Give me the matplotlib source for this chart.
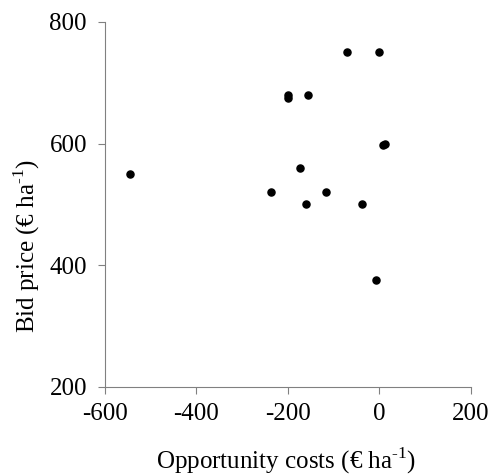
import matplotlib
matplotlib.use('Agg')
import matplotlib.pyplot as plt

plt.rcParams['font.family'] = ['Liberation Serif', 'DejaVu Serif']
plt.rcParams['mathtext.fontset'] = 'custom'
plt.rcParams['mathtext.rm'] = 'Liberation Serif'
plt.rcParams['axes.unicode_minus'] = False

# opportunity costs vs bid price
opp_costs = [-545, -70, 0, -200, -200, -155, 8, 13, -173, -237, -116, -161, -38, -8]
bid_price = [550, 750, 750, 680, 675, 680, 597, 600, 560, 520, 520, 500, 500, 375]

x_ticks = [-600, -400, -200, 0, 200]
y_ticks = [200, 400, 600, 800]

fig = plt.figure(figsize=(4.91, 4.75), dpi=100)
ax = fig.add_axes([0.2138, 0.1859, 0.745, 0.7678])

ax.scatter(opp_costs, bid_price, s=26, color='black', zorder=3)

ax.set_xlim(-600, 200)
ax.set_ylim(200, 800)
ax.set_xticks(x_ticks)
ax.set_yticks(y_ticks)
ax.tick_params(labelsize=18, direction='out', length=5, color='#808080', pad=7)
ax.tick_params(axis='y', pad=8)

for side in ['top', 'right']:
    ax.spines[side].set_visible(False)
for side in ['left', 'bottom']:
    ax.spines[side].set_color('#808080')

ax.set_xlabel(r'Opportunity costs (€ ha$^{\text{-1}}$)', fontsize=18)
ax.set_ylabel(r'Bid price (€ ha$^{\text{-1}}$)', fontsize=18)
ax.xaxis.set_label_coords(0.495, -0.16)
ax.yaxis.set_label_coords(-0.215, 0.385)
ax.yaxis.label.set_va('center')

plt.savefig('out.png', dpi=100)
